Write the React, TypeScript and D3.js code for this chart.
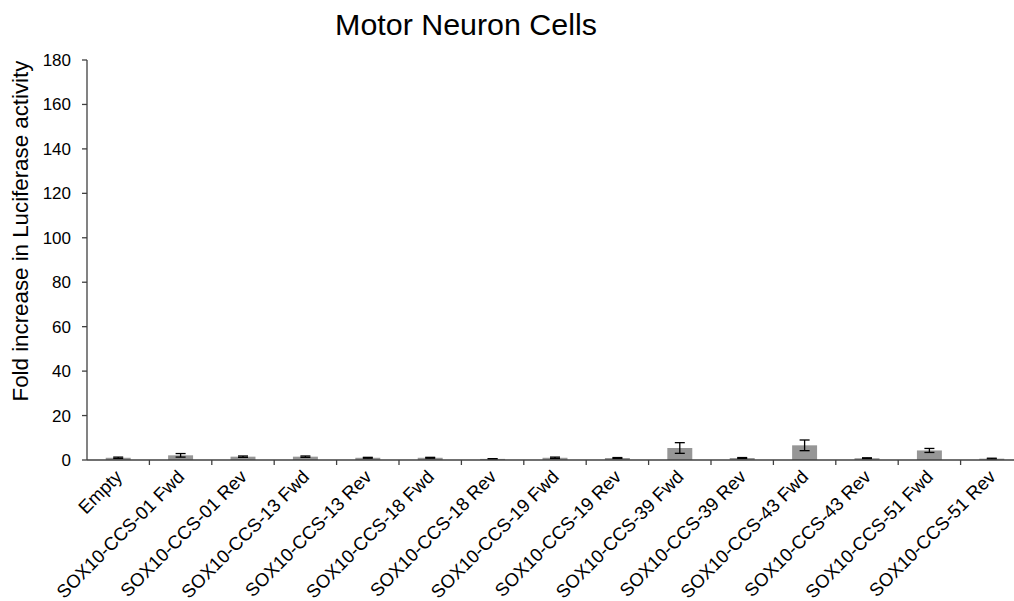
import React from "react";
import * as d3 from "d3";

const categories = [
  "Empty",
  "SOX10-CCS-01 Fwd",
  "SOX10-CCS-01 Rev",
  "SOX10-CCS-13 Fwd",
  "SOX10-CCS-13 Rev",
  "SOX10-CCS-18 Fwd",
  "SOX10-CCS-18 Rev",
  "SOX10-CCS-19 Fwd",
  "SOX10-CCS-19 Rev",
  "SOX10-CCS-39 Fwd",
  "SOX10-CCS-39 Rev",
  "SOX10-CCS-43 Fwd",
  "SOX10-CCS-43 Rev",
  "SOX10-CCS-51 Fwd",
  "SOX10-CCS-51 Rev",
];
const foldValues = [1.0, 2.1, 1.5, 1.5, 1.0, 1.0, 0.5, 1.0, 0.9, 5.4, 0.9, 6.6, 0.8, 4.3, 0.6];
const foldErrors = [0.3, 0.8, 0.3, 0.3, 0.2, 0.2, 0.1, 0.3, 0.2, 2.4, 0.2, 2.4, 0.2, 0.9, 0.2];
const yTicks = [0, 20, 40, 60, 80, 100, 120, 140, 160, 180];

const W = 1014;
const H = 601;
const left = 87;
const right = 1023;
const top = 60;
const bottom = 460;
const font = "Liberation Sans, Arial, sans-serif";
const axisColor = "#404040";

export default function App() {
  const x = d3
    .scaleBand<string>()
    .domain(categories)
    .range([left, right])
    .paddingInner(0.6)
    .paddingOuter(0.3);
  const y = d3.scaleLinear().domain([0, 180]).range([bottom, top]);
  const step = x.step();
  const bw = x.bandwidth();
  const capW = 10;

  return (
    <svg
      width={W}
      height={H}
      style={{ position: "absolute", left: 0, top: 0, background: "#fff" }}
      fontFamily={font}
    >
      <rect x={0} y={0} width={W} height={H} fill="#fff" />
      <text x={466} y={34.5} fontSize={30.4} textAnchor="middle" fill="#000">
        Motor Neuron Cells
      </text>
      <text
        transform={`translate(28,231) rotate(-90)`}
        fontSize={22.3}
        textAnchor="middle"
        fill="#000"
      >
        Fold increase in Luciferase activity
      </text>

      {/* y axis */}
      <line x1={left} x2={left} y1={top} y2={bottom} stroke={axisColor} strokeWidth={1.3} />
      {yTicks.map((t) => (
        <g key={t}>
          <line x1={left - 5} x2={left} y1={y(t)} y2={y(t)} stroke={axisColor} strokeWidth={1.3} />
          <text x={71} y={y(t)} dy="0.35em" fontSize={17} textAnchor="end" fill="#000">
            {t}
          </text>
        </g>
      ))}

      {/* bars and error bars */}
      {categories.map((c, i) => {
        const bx = x(c)!;
        const cx = bx + bw / 2;
        const v = foldValues[i];
        const e = foldErrors[i];
        return (
          <g key={c}>
            <rect x={bx} y={y(v)} width={bw} height={y(0) - y(v)} fill="#969696" />
            <line x1={cx} x2={cx} y1={y(v + e)} y2={y(Math.max(0, v - e))} stroke="#000" strokeWidth={1.3} />
            <line x1={cx - capW / 2} x2={cx + capW / 2} y1={y(v + e)} y2={y(v + e)} stroke="#000" strokeWidth={1.3} />
            <line
              x1={cx - capW / 2}
              x2={cx + capW / 2}
              y1={y(Math.max(0, v - e))}
              y2={y(Math.max(0, v - e))}
              stroke="#000"
              strokeWidth={1.3}
            />
          </g>
        );
      })}

      {/* x axis */}
      <line x1={left} x2={right} y1={bottom} y2={bottom} stroke={axisColor} strokeWidth={1.3} />
      {categories.map((c, i) => (
        <line
          key={"t" + c}
          x1={left + (i + 1) * step}
          x2={left + (i + 1) * step}
          y1={bottom}
          y2={bottom + 5}
          stroke={axisColor}
          strokeWidth={1.3}
        />
      ))}
      {categories.map((c) => {
        const cx = x(c)! + bw / 2;
        return (
          <text
            key={"l" + c}
            transform={`translate(${cx + 5},${bottom + 18}) rotate(-45)`}
            fontSize={18.5}
            textAnchor="end"
            fill="#000"
          >
            {c}
          </text>
        );
      })}
    </svg>
  );
}
